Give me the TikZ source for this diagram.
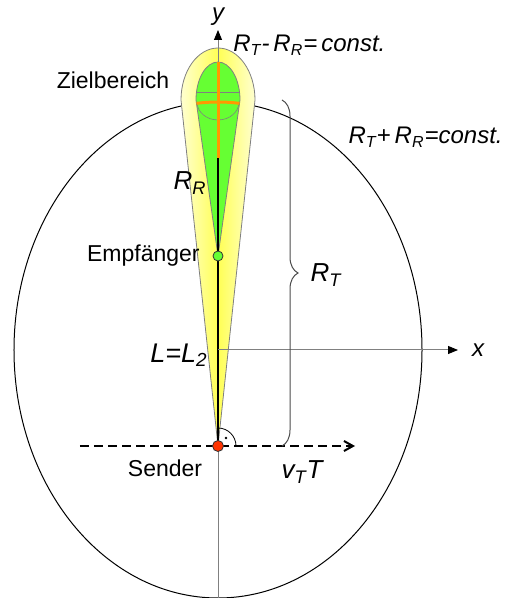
\documentclass[tikz,border=0pt]{standalone}
\usepackage{fontspec}
\setmainfont{Liberation Sans}
\usepackage{tikz}
\usetikzlibrary{arrows.meta,decorations.pathreplacing}

\definecolor{zielgelb}{HTML}{FFFF55}
\definecolor{blassgelb}{HTML}{FFFFD0}
\definecolor{zielgruen}{HTML}{66FF33}
\definecolor{strahlorange}{HTML}{FF9900}
\definecolor{senderrot}{HTML}{FF3300}

\newcommand{\idx}[1]{\textsubscript{#1}}

\begin{document}
\begin{tikzpicture}[x=0.5pt,y=0.5pt,>={Stealth[length=1.6mm]},
  lbl/.style={font=\fontsize{11.5}{13}\selectfont,inner sep=0pt},
  mlbl/.style={font=\fontsize{12}{14}\selectfont\itshape,inner sep=0pt},
  achse/.style={draw=gray,line width=0.5pt,-{Triangle[length=5pt,width=4pt,black]}},
  punkt/.style={circle,draw=black!80,line width=0.4pt,inner sep=0pt}]
  \useasboundingbox (-218,-248) rectangle (287,350);
  \coordinate (O) at (0,0);
  \coordinate (S) at (0,-96);
  \coordinate (E) at (0,94);
  \coordinate (ybot) at (0,-248);
  \coordinate (ytop) at (0,320);
  \coordinate (xend) at (240,0);
  \coordinate (dl) at (-138,-96);
  \coordinate (dr) at (137,-96);
  \coordinate (gtop) at (0,288);
  \coordinate (ostop) at (0,192);
  \coordinate (bt) at (64,250);
  \coordinate (bb) at (64,-96);
  % ellipse R_T + R_R = const.
  \draw[line width=0.5pt] (O) ellipse[x radius=204,y radius=248];
  % Zielbereich
  \draw[draw=gray,line width=0.4pt,left color=blassgelb,right color=blassgelb,middle color=zielgelb]
    (S) -- (-37,250) arc[start angle=180,end angle=0,x radius=37,y radius=52] -- cycle;
  \draw[draw=gray,line width=0.4pt,fill=zielgruen]
    (E) -- (-22,250) arc[start angle=180,end angle=0,x radius=22,y radius=38] -- cycle;
  \begin{scope}
    \clip (E) -- (-22,250) arc[start angle=180,end angle=0,x radius=22,y radius=38] -- cycle;
    \draw[gray,line width=0.3pt] (-30,258) -- (30,258);
    \draw[gray,line width=0.3pt] (-21,248) arc[start angle=180,end angle=360,x radius=21,y radius=18];
    \draw[strahlorange,line width=1.5pt] (O) ellipse[x radius=204,y radius=248];
  \end{scope}
  % axes
  \draw[achse] (ybot) -- (ytop);
  \draw[strahlorange,line width=1.5pt] (gtop) -- (ostop);
  \draw[line width=1pt] (ostop) -- (S);
  \draw[achse] (O) -- (xend);
  \draw[line width=1pt,dash pattern=on 4.5pt off 2.5pt,-{Straight Barb[length=4.5pt,width=5pt]}] (dl) -- (dr);
  \draw[line width=0.4pt] (S) ++(18,0) arc[start angle=0,end angle=90,radius=18];
  \fill (S) ++(8,8) circle[radius=0.7pt];
  \draw[black!70,line width=0.5pt,decorate,decoration={brace,amplitude=8pt}] (bt) -- (bb);
  % points
  \node[punkt,fill=senderrot,minimum size=5.5pt] (sender) at (S) {};
  \node[punkt,fill=zielgruen,minimum size=5pt] (empf) at (E) {};
  % labels
  \node[mlbl] (ylab) at (0,333) {y};
  \node[mlbl] (xlab) at (260,0) {x};
  \node[lbl] (ziel) at (-105,270) {Zielbereich};
  \node[mlbl,anchor=west] (diff) at (15,305) {R\idx{T}-\,R\idx{R}=\,const.};
  \node[mlbl,anchor=east] (summe) at (285,213) {R\idx{T}+\,R\idx{R}=const.};
  \node[mlbl,font=\fontsize{13}{15}\selectfont\itshape] (rr) at (-28,167) {R\idx{R}};
  \node[lbl,anchor=east] (empflab) at (-18,94) {Empfänger};
  \node[mlbl,anchor=east,font=\fontsize{13.5}{15}\selectfont\itshape] (llab) at (-10,-5) {L=L\idx{2}};
  \node[lbl] (senderlab) at (-53,-118) {Sender};
  \node[mlbl,font=\fontsize{13}{15}\selectfont\itshape] (vt) at (84,-122) {v\idx{T}T};
  \node[mlbl,font=\fontsize{13}{15}\selectfont\itshape] (rt) at (108,75) {R\idx{T}};
\end{tikzpicture}
\end{document}
